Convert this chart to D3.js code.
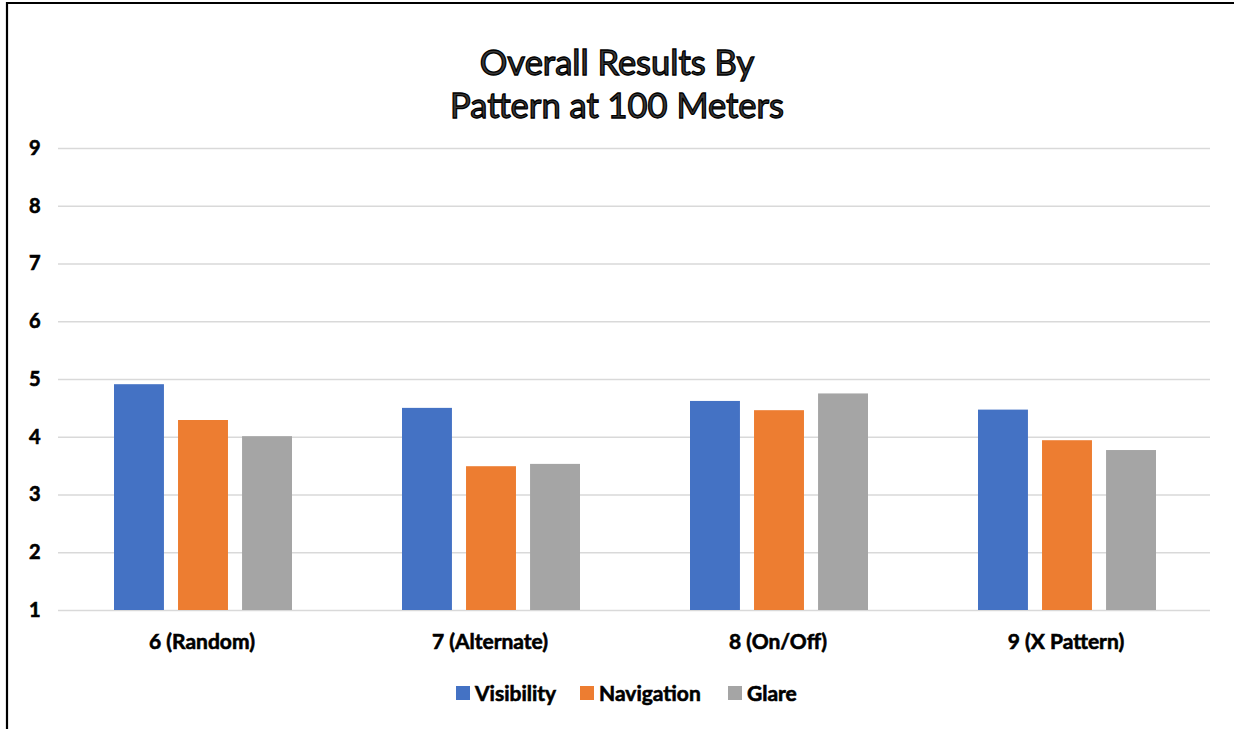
<!DOCTYPE html>
<html><head><meta charset="utf-8">
<script src="https://cdn.jsdelivr.net/npm/d3@7"></script>
<style>body{margin:0;background:#fff;} svg{display:block;}</style>
</head><body>
<svg id="chart" width="1234" height="729"></svg>
<script>
const categories = ["6 (Random)", "7 (Alternate)", "8 (On/Off)", "9 (X Pattern)"];
const seriesNames = ["Visibility", "Navigation", "Glare"];
const visibility = [4.91, 4.50, 4.62, 4.47];
const navigation = [4.29, 3.49, 4.46, 3.94];
const glare = [4.01, 3.53, 4.75, 3.77];
const colors = ["#4472C4", "#ED7D31", "#A5A5A5"];
const yTicks = [1, 2, 3, 4, 5, 6, 7, 8, 9];
const titleLines = ["Overall Results By", "Pattern at 100 Meters"];

const values = [visibility, navigation, glare];
const svg = d3.select("#chart");
const font = "Lato, 'Open Sans', sans-serif";

// frame
svg.append("path").attr("d", "M7,729 V3 H1234").attr("fill", "none").attr("stroke", "#000").attr("stroke-width", 2.2);

const plotL = 58, plotR = 1210, plotT = 148, plotB = 610;
const x0 = d3.scaleBand().domain(categories).range([plotL, plotR]).padding(0);
const x1 = d3.scaleBand().domain(seriesNames).range([56, 234]).paddingInner(0.22).paddingOuter(0);
const y = d3.scaleLinear().domain([1, 9]).range([plotB, plotT]);

function boldText(sel, size) {
  sel.attr("font-family", font).attr("font-weight", "bold").attr("font-size", size)
    .attr("fill", "#000").attr("stroke", "#000").attr("stroke-width", 0.6);
}

// gridlines
const yAxis = d3.axisLeft(y).tickValues(yTicks).tickSize(-(plotR - plotL)).tickPadding(22).tickFormat(d3.format("d"));
const gy = svg.append("g").attr("transform", `translate(${plotL},0)`).call(yAxis);
gy.select(".domain").remove();
gy.selectAll(".tick line").attr("stroke", "#d9d9d9").attr("stroke-width", 1.5);
gy.selectAll(".tick text").call(boldText, 20).attr("text-anchor", "start").attr("x", -29);

// bars
const groups = svg.append("g").selectAll("g").data(categories).join("g")
  .attr("transform", d => `translate(${x0(d)},0)`);
groups.selectAll("rect").data((c, i) => seriesNames.map((s, j) => ({s, v: values[j][i], j})))
  .join("rect")
  .attr("x", d => x1(d.s)).attr("width", x1.bandwidth())
  .attr("y", d => y(d.v)).attr("height", d => y(1) - y(d.v))
  .attr("fill", d => colors[d.j]);

// x axis labels
const xAxis = d3.axisBottom(x0).tickSize(0).tickPadding(24);
const gx = svg.append("g").attr("transform", `translate(0,${plotB})`).call(xAxis);
gx.select(".domain").remove();
gx.selectAll(".tick text").call(boldText, 21);

// title
svg.append("g").selectAll("text").data(titleLines).join("text")
  .attr("x", 617).attr("y", (d, i) => 75 + i * 43)
  .attr("text-anchor", "middle").attr("font-family", font).attr("font-size", 34.5)
  .attr("fill", "#3a3a3a").attr("stroke", "#000").attr("stroke-width", 1.3)
  .text(d => d);

// legend
const legendX = [456, 580, 728];
const lg = svg.append("g").selectAll("g").data(seriesNames).join("g")
  .attr("transform", (d, i) => `translate(${legendX[i]},686)`);
lg.append("rect").attr("width", 14).attr("height", 14).attr("fill", (d, i) => colors[i]);
lg.append("text").attr("x", 19).attr("y", 14.5).call(boldText, 21).text(d => d);
</script>
</body></html>
